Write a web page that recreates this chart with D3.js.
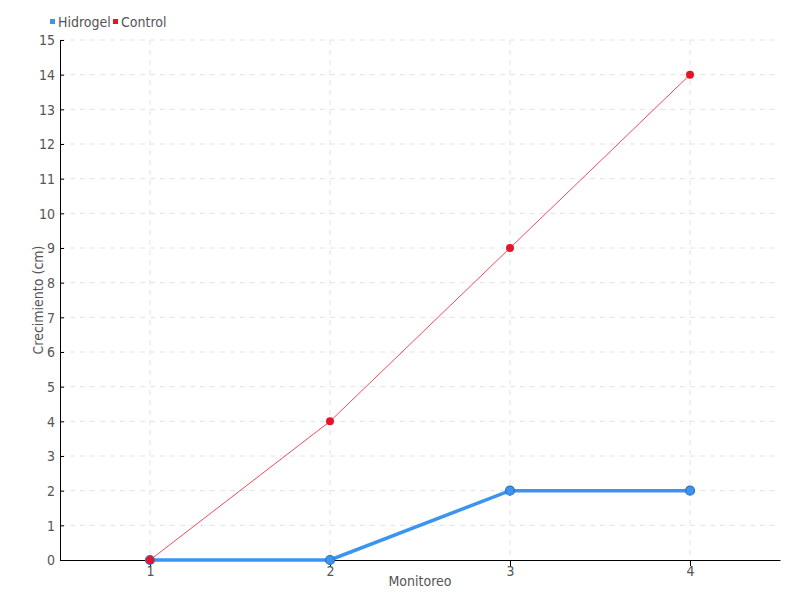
<!DOCTYPE html>
<html>
<head>
<meta charset="utf-8">
<script src="https://cdn.jsdelivr.net/npm/d3@7"></script>
<style>
  body { margin: 0; background: #fff; }
  text { font-family: "Liberation Sans Narrow", "DejaVu Sans Condensed", sans-serif; fill: #555; }
</style>
</head>
<body>
<div id="chart"></div>
<script>
// datos del gráfico
const monitoreo = ["1", "2", "3", "4"];
const hidrogel = [0, 0, 2, 2];
const control = [0, 4, 9, 14];
const yTicks = [0, 1, 2, 3, 4, 5, 6, 7, 8, 9, 10, 11, 12, 13, 14, 15];

const width = 800, height = 600;
const margin = { top: 40, right: 20, bottom: 40, left: 60 };

const svg = d3.select("#chart").append("svg")
    .attr("width", width)
    .attr("height", height);

// escalas
const x = d3.scalePoint()
    .domain(monitoreo)
    .range([margin.left, width - margin.right])
    .padding(0.5);

const y = d3.scaleLinear()
    .domain([0, 15])
    .range([height - margin.bottom, margin.top]);

// rejilla
const grid = svg.append("g");
grid.selectAll(".hgrid")
    .data(yTicks.filter(d => d > 0))
    .enter().append("line")
    .attr("x1", margin.left).attr("x2", width - margin.right)
    .attr("y1", d => y(d)).attr("y2", d => y(d))
    .attr("stroke", "#e3e3e3")
    .attr("stroke-dasharray", "5,5");
grid.selectAll(".vgrid")
    .data(monitoreo)
    .enter().append("line")
    .attr("x1", d => x(d)).attr("x2", d => x(d))
    .attr("y1", margin.top).attr("y2", y(0))
    .attr("stroke", "#e3e3e3")
    .attr("stroke-dasharray", "5,5");

// ejes
const xAxis = svg.append("g")
    .attr("transform", "translate(0," + y(0) + ")")
    .call(d3.axisBottom(x).tickSize(6).tickSizeOuter(0).tickPadding(-3));
const yAxis = svg.append("g")
    .attr("transform", "translate(" + margin.left + ",0)")
    .call(d3.axisLeft(y).tickValues(yTicks).tickSize(-4).tickSizeOuter(0).tickPadding(5));

[xAxis, yAxis].forEach(function (ax) {
    ax.select(".domain").attr("stroke", "#000");
    ax.selectAll(".tick line").attr("stroke", "#000");
    ax.selectAll(".tick text").style("font-size", "14px").attr("fill", "#555");
});
yAxis.selectAll(".tick text").attr("dy", "0.35em");
xAxis.selectAll(".tick text").attr("dy", "0.9em");

// títulos
svg.append("text")
    .attr("x", (margin.left + width - margin.right) / 2)
    .attr("y", 586)
    .attr("text-anchor", "middle")
    .style("font-size", "14px")
    .text("Monitoreo");
svg.append("text")
    .attr("transform", "translate(43," + ((margin.top + y(0)) / 2) + ") rotate(-90)")
    .attr("text-anchor", "middle")
    .style("font-size", "14px")
    .text("Crecimiento (cm)");

const line = d3.line()
    .x((d, i) => x(monitoreo[i]))
    .y(d => y(d));

// serie Hidrogel
svg.append("path")
    .datum(hidrogel)
    .attr("d", line)
    .attr("fill", "none")
    .attr("stroke", "#3b94f0")
    .attr("stroke-width", 3.5);
svg.selectAll(".ph")
    .data(hidrogel)
    .enter().append("circle")
    .attr("cx", (d, i) => x(monitoreo[i]))
    .attr("cy", d => y(d))
    .attr("r", 4.5)
    .attr("fill", "#3b94f0")
    .attr("stroke", "#2a6fc9")
    .attr("stroke-width", 1.2);

// serie Control
svg.append("path")
    .datum(control)
    .attr("d", line)
    .attr("fill", "none")
    .attr("stroke", "#f04a5c")
    .attr("stroke-width", 1);
svg.selectAll(".pc")
    .data(control)
    .enter().append("circle")
    .attr("cx", (d, i) => x(monitoreo[i]))
    .attr("cy", d => y(d))
    .attr("r", 4)
    .attr("fill", "#e8132a");

// leyenda
const series = [
    { name: "Hidrogel", color: "#3b94f0", x: 50 },
    { name: "Control", color: "#e8132a", x: 113 }
];
const legend = svg.selectAll(".legend")
    .data(series)
    .enter().append("g")
    .attr("transform", d => "translate(" + d.x + ",22)");
legend.append("rect")
    .attr("x", 0).attr("y", -3)
    .attr("width", 5).attr("height", 5)
    .attr("fill", d => d.color);
legend.append("text")
    .attr("x", 8).attr("y", 5)
    .style("font-size", "14px")
    .text(d => d.name);
</script>
</body>
</html>
